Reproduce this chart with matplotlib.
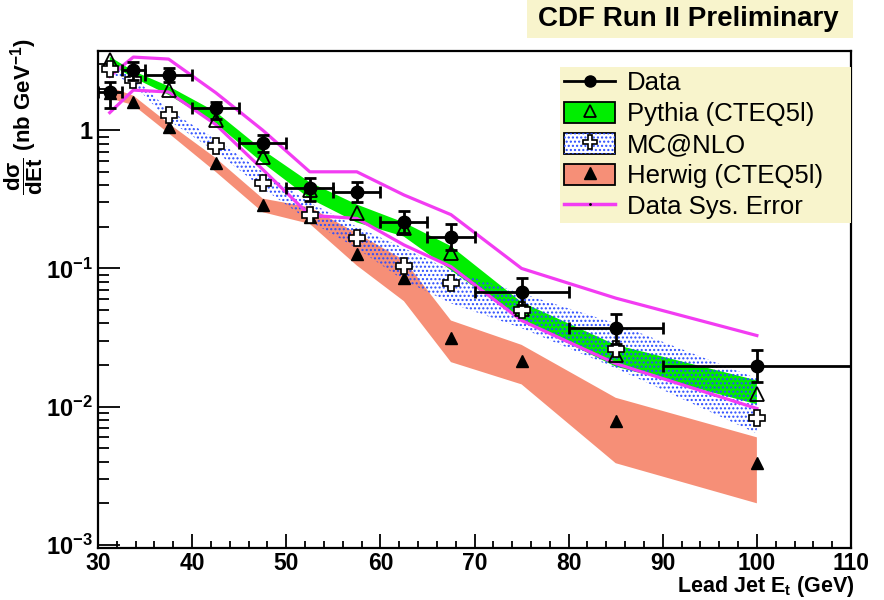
import numpy as np
import matplotlib
matplotlib.use("Agg")
import matplotlib.pyplot as plt
from matplotlib.patches import Patch, Rectangle
from matplotlib.lines import Line2D
from matplotlib.ticker import FixedLocator, FixedFormatter, MultipleLocator, LogLocator, NullFormatter

plt.rcParams["font.family"] = ["Liberation Sans", "DejaVu Sans"]
plt.rcParams["mathtext.fontset"] = "custom"
plt.rcParams["mathtext.rm"] = "Liberation Sans:bold"
plt.rcParams["mathtext.bf"] = "Liberation Sans:bold"
plt.rcParams["mathtext.it"] = "Liberation Sans:bold"
plt.rcParams["mathtext.sf"] = "Liberation Sans:bold"
plt.rcParams["mathtext.default"] = "bf"
plt.rcParams["hatch.linewidth"] = 1.0

# ---- binning (lead jet Et, GeV) ----
et_center = [31.25, 33.75, 37.5, 42.5, 47.5, 52.5, 57.5, 62.5, 67.5, 75.0, 85.0, 100.0]
et_halfwidth = [1.25, 1.25, 2.5, 2.5, 2.5, 2.5, 2.5, 2.5, 2.5, 5.0, 5.0, 10.0]

# ---- measured cross section (nb/GeV) ----
data_val = [1.89, 2.72, 2.50, 1.44, 0.805, 0.38, 0.355, 0.215, 0.168, 0.067, 0.0373, 0.0198]
data_hi = [2.23, 3.10, 2.80, 1.60, 0.92, 0.45, 0.42, 0.26, 0.21, 0.085, 0.047, 0.0255]
data_lo = [1.44, 2.30, 2.23, 1.20, 0.69, 0.31, 0.30, 0.18, 0.135, 0.054, 0.0286, 0.0150]

# systematic envelope of the data
sys_hi = [2.45, 3.38, 3.27, 1.87, 1.00, 0.50, 0.50, 0.34, 0.245, 0.100, 0.061, 0.0327]
sys_lo = [1.34, 1.95, 1.89, 1.10, 0.52, 0.242, 0.23, 0.148, 0.103, 0.042, 0.0205, 0.0097]

# ---- Pythia (CTEQ5l) ----
pythia_val = [3.20, 2.55, 1.95, 1.18, 0.637, 0.37, 0.25, 0.195, 0.13, 0.051, 0.0235, 0.0124]
pythia_hi = [3.40, 2.68, 2.08, 1.36, 0.72, 0.42, 0.29, 0.215, 0.145, 0.057, 0.028, 0.0155]
pythia_lo = [3.00, 2.40, 1.80, 1.12, 0.58, 0.32, 0.215, 0.17, 0.097, 0.042, 0.0195, 0.0104]

# ---- MC@NLO ----
mcnlo_val = [2.77, 2.30, 1.28, 0.765, 0.413, 0.242, 0.165, 0.105, 0.079, 0.050, 0.0263, 0.0083]
mcnlo_hi = [2.90, 2.45, 1.40, 0.86, 0.50, 0.30, 0.20, 0.14, 0.097, 0.066, 0.040, 0.016]
mcnlo_lo = [2.60, 2.15, 1.18, 0.70, 0.38, 0.22, 0.14, 0.082, 0.056, 0.037, 0.019, 0.0064]

# ---- Herwig (CTEQ5l) ----
herwig_val = [1.85, 1.60, 1.05, 0.576, 0.286, 0.235, 0.128, 0.085, 0.0316, 0.0215, 0.0079, 0.0039]
herwig_hi = [2.05, 1.78, 1.12, 0.63, 0.32, 0.277, 0.18, 0.115, 0.042, 0.028, 0.0116, 0.0060]
herwig_lo = [1.70, 1.52, 0.95, 0.50, 0.255, 0.21, 0.105, 0.058, 0.021, 0.0145, 0.0039, 0.0020]

# ---- axis text ----
x_ticks = [30, 40, 50, 60, 70, 80, 90, 100, 110]
y_ticks = [1e-3, 1e-2, 1e-1, 1]
y_tick_labels = [r"$10^{-3}$", r"$10^{-2}$", r"$10^{-1}$", "1"]
legend_labels = ["Data", "Pythia (CTEQ5l)", "MC@NLO", "Herwig (CTEQ5l)", "Data Sys. Error"]

GREEN = "#00ee00"
BLUE = "#2a4cff"
RED = "#f68f77"
MAGENTA = "#f23cf2"
PANEL = "#f8f4cc"

fig = plt.figure(figsize=(8.84, 6.0), dpi=100)
ax = fig.add_axes([98 / 884, 52 / 600, 753 / 884, 497 / 600])

x = np.array(et_center)

# model bands
ax.fill_between(x, herwig_lo, herwig_hi, facecolor=RED, edgecolor="none", linewidth=0, zorder=1)
ax.fill_between(x, pythia_lo, pythia_hi, facecolor=GREEN, edgecolor="none", linewidth=0, zorder=2)
ax.fill_between(x, mcnlo_lo, mcnlo_hi, facecolor="none", edgecolor=BLUE, hatch="....",
                linewidth=0, zorder=3)

# data systematic envelope
ax.plot(x, sys_hi, color=MAGENTA, lw=2.3, zorder=4)
ax.plot(x, sys_lo, color=MAGENTA, lw=2.3, zorder=4)

# model central values
ax.plot(x, herwig_val, ls="none", marker="^", ms=8.5, color="black", zorder=5)
ax.plot(x, pythia_val, ls="none", marker="^", ms=10, mfc="none", mec="black", mew=1.3, zorder=5)
ax.plot(x, mcnlo_val, ls="none", marker="P", ms=11, mfc="white", mec="black", mew=1.2, zorder=5)

# data points
dv = np.array(data_val)
yerr = [dv - np.array(data_lo), np.array(data_hi) - dv]
ax.errorbar(x, dv, xerr=et_halfwidth, yerr=yerr, fmt="o", color="black", ms=9,
            elinewidth=2.0, capsize=4, capthick=2.0, zorder=6)

# axes styling
ax.set_yscale("log")
ax.set_xlim(30, 110)
ax.set_ylim(0.00095, 3.74)

ax.xaxis.set_major_locator(FixedLocator(x_ticks))
ax.xaxis.set_minor_locator(MultipleLocator(2))
ax.yaxis.set_major_locator(FixedLocator(y_ticks))
ax.yaxis.set_major_formatter(FixedFormatter(y_tick_labels))
ax.yaxis.set_minor_locator(LogLocator(base=10, subs=np.arange(2, 10)))
ax.yaxis.set_minor_formatter(NullFormatter())

ax.tick_params(which="both", direction="in", top=False, right=False, width=1.3)
ax.tick_params(axis="x", which="major", length=10, pad=3, labelsize=16.5)
ax.tick_params(axis="x", which="minor", length=5)
ax.tick_params(axis="y", which="major", length=16, pad=4, labelsize=17)
ax.tick_params(axis="y", which="minor", length=8)
for lab in ax.get_xticklabels() + ax.get_yticklabels():
    lab.set_fontweight("bold")
for sp in ax.spines.values():
    sp.set_linewidth(1.6)

ax.set_xlabel(r"Lead Jet E$_{t}$ (GeV)", fontsize=15.5, fontweight="bold", loc="right")
ax.xaxis.set_label_coords(1.005, -0.053)
ax.set_ylabel(r"$\dfrac{d\sigma}{dEt}$ (nb GeV$^{-1}$)", fontsize=16, fontweight="bold", loc="top")
ax.yaxis.set_label_coords(-0.07, 1.025)

# legend
handles = [
    Line2D([], [], color="black", lw=2, marker="o", ms=8),
    (Patch(facecolor=GREEN, edgecolor="black", lw=1.3),
     Line2D([], [], ls="none", marker="^", ms=9, mfc="none", mec="black", mew=1.3)),
    (Patch(facecolor="white", edgecolor="black", lw=1.3),
     Patch(facecolor="none", edgecolor=BLUE, hatch="....", lw=0),
     Line2D([], [], ls="none", marker="P", ms=10, mfc="white", mec="black", mew=1.2)),
    (Patch(facecolor=RED, edgecolor="black", lw=1.3),
     Line2D([], [], ls="none", marker="^", ms=8, color="black")),
    Line2D([], [], color=MAGENTA, lw=2.5, marker=".", ms=2, mfc="black", mec="black"),
]
leg = ax.legend(handles, legend_labels, loc="center", mode="expand",
                bbox_to_anchor=(0.6135, 0.66, 0.3865, 0.302), borderaxespad=0,
                fontsize=18.5, handlelength=2.0, handleheight=0.9, handletextpad=0.45,
                labelspacing=0.25, borderpad=0.15, fancybox=False, framealpha=1)
leg.get_frame().set_facecolor(PANEL)
leg.get_frame().set_edgecolor("none")
for t in leg.get_texts():
    t.set_fontweight("normal")

# experiment banner
fig.patches.append(Rectangle((527 / 884, 1 - 38 / 600), (853 - 527) / 884, 38 / 600,
                             transform=fig.transFigure, facecolor=PANEL, edgecolor="none"))
fig.text(688 / 884, 1 - 19 / 600, "CDF Run II Preliminary", fontsize=20, fontweight="bold",
         ha="center", va="center")

fig.savefig("out.png", dpi=100)
